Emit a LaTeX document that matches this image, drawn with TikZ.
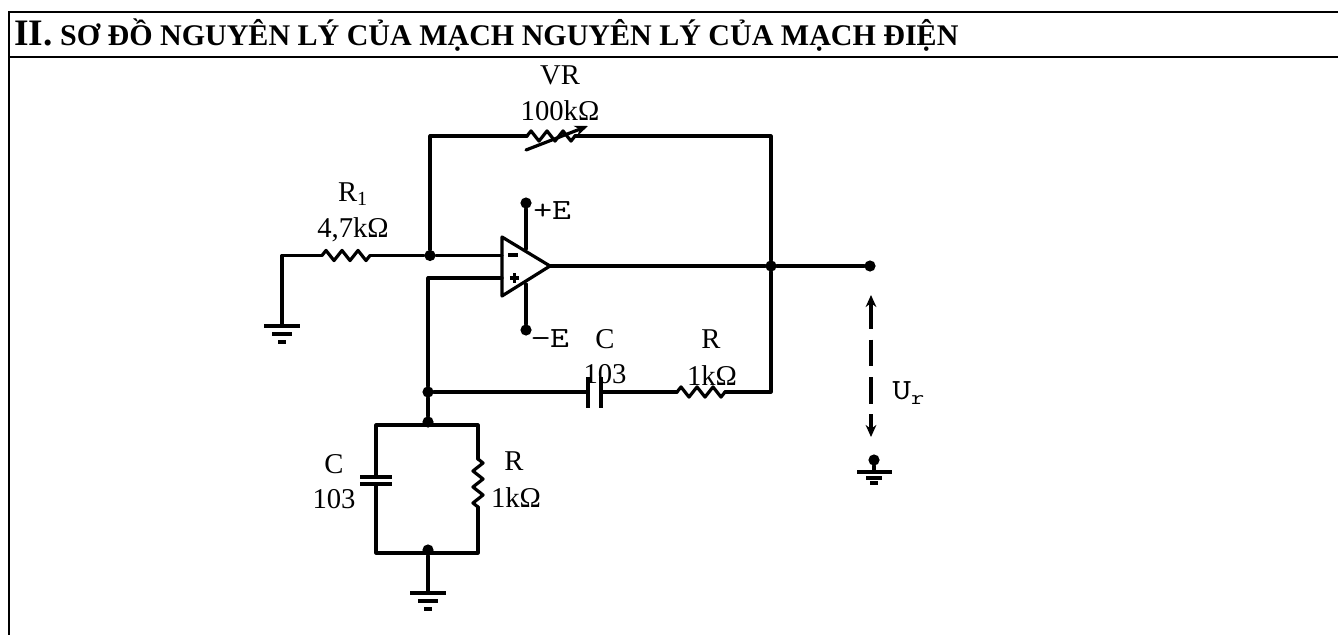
\documentclass[tikz,border=0pt]{standalone}
\usepackage{fontspec}
\setmainfont{Liberation Serif}
\usepackage{tikz}
\usetikzlibrary{arrows.meta, decorations.pathmorphing}
\tikzstyle{wire} = [line width=2.4pt, line cap=round, line join=round]
\tikzstyle{frameline} = [line width=2pt]
\tikzstyle{dotnode} = [circle, fill=black, inner sep=0pt, minimum size=8.4pt]
\tikzstyle{label} = [inner sep=0pt, align=center, font=\fontsize{21.5}{24}\selectfont]
\tikzstyle{monolabel} = [inner sep=0pt, xscale=1.25, font=\ttfamily\fontsize{22}{24}\selectfont]
\tikzstyle{zig} = [wire, decorate, decoration={zigzag, segment length=12pt, amplitude=3.8pt}]
\tikzstyle{plate} = [line width=2.4pt]
\begin{document}
\begin{tikzpicture}[x=0.75pt, y=-0.75pt]
    \useasboundingbox (0,0) rectangle (1338,635);
    % frame
    \coordinate (tl) at (9,12);
    \coordinate (tr) at (1338,12);
    \coordinate (ml) at (9,57);
    \coordinate (mr) at (1338,57);
    \coordinate (bl) at (9,635);
    \draw [frameline] (bl) -- (tl) -- (tr);
    \draw [frameline] (ml) -- (mr);
    \node (title) [anchor=base west, inner sep=0pt, font=\bfseries\fontsize{22.5}{24}\selectfont] at (14,46) {{\fontsize{28}{30}\selectfont II.} SƠ ĐỒ NGUYÊN LÝ CỦA MẠCH NGUYÊN LÝ CỦA MẠCH ĐIỆN};

    % op amp
    \coordinate (opa) at (502,237);
    \coordinate (opb) at (502,296);
    \coordinate (opout) at (550,266);
    \draw [wire] (opa) -- (opout) -- (opb) -- cycle;
    \coordinate (inm) at (502,255.5);
    \coordinate (inp) at (502,278);
    \node (minus) [inner sep=0pt] at (513,255) {\rule{7pt}{2.4pt}};
    \node (plus) [inner sep=0pt] at (513,278) {\rule{7pt}{2.4pt}\hspace{-7pt}\hspace{2.3pt}\rule[-2.3pt]{2.4pt}{7pt}\hspace{2.3pt}};

    % junctions
    \node (j1) [dotnode] at (430,255.5) {};
    \node (j2) [dotnode] at (771,266) {};
    \node (j3) [dotnode] at (428,392) {};
    \node (j4) [dotnode] at (428,422) {};
    \node (j5) [dotnode] at (428,550) {};
    \node (vout) [dotnode] at (870,266) {};
    \node (vcc) [dotnode] at (526,203) {};
    \node (vee) [dotnode] at (526,330) {};
    \node (ugnd) [dotnode] at (874,460) {};

    % supply pins
    \draw [wire] (vcc) -- (526,249);
    \draw [wire] (vee) -- (526,284);

    % R1 branch
    \coordinate (rgnd) at (282,326);
    \coordinate (rlc) at (282,255.5);
    \coordinate (r1a) at (322,255.5);
    \coordinate (r1b) at (370,255.5);
    \draw [wire] (rgnd) -- (rlc) -- (r1a);
    \draw [zig] (r1a) -- (r1b);
    \draw [wire] (r1b) -- (j1);
    \draw [wire] (j1) -- (inm);

    % feedback VR
    \coordinate (vra) at (527,136);
    \coordinate (vrb) at (575,136);
    \coordinate (ftr) at (771,136);
    \draw [wire] (j1) -- (430,136) -- (vra);
    \draw [zig] (vra) -- (vrb);
    \draw [wire] (vrb) -- (ftr) -- (j2);
    \draw [wire, -{Stealth[length=10pt,width=8pt]}] (526,150) -- (588,126);

    % output
    \draw [wire] (opout) -- (j2) -- (vout);

    % non-inverting input
    \draw [wire] (inp) -- (428,278) -- (j3) -- (j4);

    % series C and R
    \coordinate (cap1) at (588,392);
    \coordinate (cap2) at (601,392);
    \coordinate (rsa) at (677,392);
    \coordinate (rsb) at (725,392);
    \coordinate (fbr) at (771,392);
    \draw [wire] (j3) -- (cap1);
    \draw [plate] (588,377) -- (588,408);
    \draw [plate] (601,377) -- (601,408);
    \draw [wire] (cap2) -- (rsa);
    \draw [zig] (rsa) -- (rsb);
    \draw [wire] (rsb) -- (fbr) -- (j2);

    % parallel C and R
    \coordinate (ptl) at (376,425);
    \coordinate (ptr) at (478,425);
    \coordinate (pbl) at (376,553);
    \coordinate (pbr) at (478,553);
    \coordinate (pca) at (376,477);
    \coordinate (pcb) at (376,484);
    \coordinate (pra) at (478,459);
    \coordinate (prb) at (478,507);
    \draw [wire] (pca) -- (ptl) -- (ptr) -- (pra);
    \draw [zig] (pra) -- (prb);
    \draw [wire] (prb) -- (pbr) -- (pbl) -- (pcb);
    \draw [plate] (360,477) -- (392,477);
    \draw [plate] (360,484) -- (392,484);

    % grounds
    \coordinate (ggnd) at (428,593);
    \draw [wire] (j5) -- (ggnd);
    \foreach \gx/\gy in {282/326, 428/593} {
        \draw [plate] (\gx-18,\gy) -- (\gx+18,\gy);
        \draw [plate] (\gx-10,\gy+8) -- (\gx+10,\gy+8);
        \draw [plate] (\gx-4,\gy+16) -- (\gx+4,\gy+16);
    }
    \coordinate (ugp) at (874,472);
    \draw [wire] (ugnd) -- (ugp);
    \draw [plate] (857,472) -- (892,472);
    \draw [plate] (866,478) -- (882,478);
    \draw [plate] (870,483) -- (878,483);

    % Ur arrow
    \coordinate (ua) at (871,295);
    \coordinate (ub) at (871,437);
    \draw [wire, line cap=butt, dash pattern=on 20pt off 8pt, {Stealth[length=9pt,width=8pt]}-{Stealth[length=9pt,width=8pt]}] (ua) -- (ub);

    % labels
    \node (vrname) [label] at (560,75) {VR};
    \node (vrval) [label] at (560,111) {100kΩ};
    \node (r1name) [label] at (353,194) {R\textsubscript{1}};
    \node (r1val) [label] at (353,230) {4,7kΩ};
    \node (pluse) [monolabel, anchor=west] at (533,211) {+E};
    \node (minuse) [monolabel, anchor=west] at (531,339) {−E};
    \node (csname) [label] at (605,339) {C};
    \node (csval) [label] at (605,374) {103};
    \node (rsname) [label] at (711,339) {R};
    \node (rsval) [label] at (712,376) {1kΩ};
    \node (cpname) [label] at (334,464) {C};
    \node (cpval) [label] at (334,499) {103};
    \node (rpname) [label] at (514,461) {R};
    \node (rpval) [label] at (516,498) {1kΩ};
    \node (ur) [monolabel, anchor=west] at (892,393) {U\textsubscript{r}};
  \end{tikzpicture}
\end{document}
